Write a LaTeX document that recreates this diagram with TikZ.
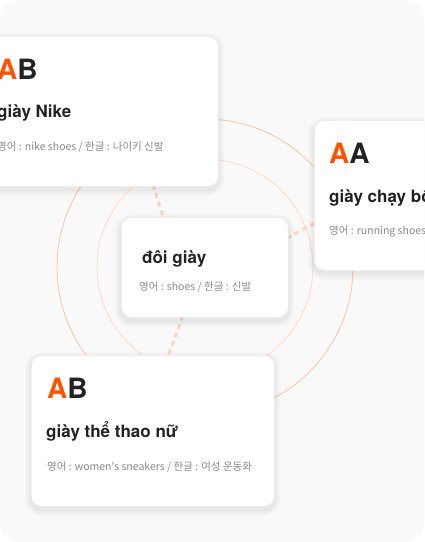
\documentclass[tikz,border=0pt]{standalone}
\usepackage{fontspec}
\setmainfont{texgyreheros}[Extension=.otf, UprightFont=*-regular, BoldFont=*-bold]
\newfontfamily\krfont{Noto Sans CJK KR}
\usetikzlibrary{calc,positioning}
\definecolor{PageGray}{RGB}{249, 249, 249}
\definecolor{CardLine}{RGB}{234, 234, 234}
\definecolor{MarkOrange}{RGB}{255, 82, 0}
\definecolor{InkDark}{RGB}{34, 34, 34}
\definecolor{NoteGray}{RGB}{138, 138, 138}
\definecolor{RingOuter}{RGB}{250, 200, 172}
\definecolor{RingInner}{RGB}{252, 222, 206}
\definecolor{LinkPeach}{RGB}{253, 212, 190}
\pgfdeclarelayer{ground}
\pgfdeclarelayer{links}
\pgfsetlayers{ground,links,main}
\tikzset{
    softshade/.style={draw=black, draw opacity=0.022, line width=#1, transform canvas={yshift=-3pt}},
    card/.style={draw=CardLine, line width=0.7pt, fill=white, rounded corners=10pt,
        anchor=north west, inner sep=0pt,
        preaction={softshade=12pt}, preaction={softshade=8pt}, preaction={softshade=4pt}},
    letterpair/.style={font=\fontsize{28}{30}\selectfont\bfseries, text=InkDark, anchor=base west, inner sep=0pt},
    headword/.style={font=\fontsize{17}{20}\selectfont\bfseries, text=InkDark, anchor=base west, inner sep=0pt},
    gloss/.style={font=\krfont\fontsize{10.5}{12}\selectfont, text=NoteGray, anchor=base west, inner sep=0pt},
    link/.style={LinkPeach, line width=3pt, dash pattern=on 5pt off 4pt},
}

\begin{document}
\begin{tikzpicture}[x=1pt, y=-1pt]
    \useasboundingbox (0,0) rectangle (424,542);
    \clip (0,0) rectangle (424,542);
    \begin{pgfonlayer}{ground}
        % page
        \fill[white] (0,0) rectangle (424,542);
        \fill[PageGray, rounded corners=20pt] (0,0) rectangle (424,542);
        % rings
        \draw[RingOuter, line width=0.9pt] (205,267) circle (148);
        \draw[RingInner, line width=0.9pt] (205,267) circle (108);
    \end{pgfonlayer}
    % cards
    \node[card, minimum width=237pt, minimum height=150pt] (nike) at (-19,36) {};
    \node[card, minimum width=130pt, minimum height=150pt] (chay) at (314,120) {};
    \node[card, minimum width=167pt, minimum height=100pt] (doi)  at (121,217) {};
    \node[card, minimum width=243pt, minimum height=151pt] (thao) at (31,355) {};
    % links
    \begin{pgfonlayer}{links}
        \draw[link] ($(nike.south)+(53,-2)$) -- ($(doi.north)+(-41,2)$);
        \draw[link] ($(doi.east)+(-2,-29)$) -- ($(chay.west)+(2,27)$);
        \draw[link] ($(doi.south)+(-22,-2)$) -- ($(thao.north)+(15,2)$);
    \end{pgfonlayer}
    % texts
    \node[letterpair] (nikeAB) at ($(nike.north west)+(16,43)$) {\textcolor{MarkOrange}{A}B};
    \node[headword] (nikeWord) at ($(nike.north west)+(16,81)$) {giày Nike};
    \node[gloss] (nikeNote) at ($(nike.north west)+(16,114)$) {영어 : nike shoes / 한글 : 나이키 신발};

    \node[letterpair] (chayAA) at ($(chay.north west)+(15,43)$) {\textcolor{MarkOrange}{A}A};
    \node[headword] (chayWord) at ($(chay.north west)+(15,82)$) {giày chạy bộ};
    \node[gloss] (chayNote) at ($(chay.north west)+(15,114)$) {영어 : running shoes / 한글 : 러닝화};

    \node[headword] (doiWord) at ($(doi.north west)+(21,46)$) {đôi giày};
    \node[gloss] (doiNote) at ($(doi.north west)+(18,73)$) {영어 : shoes / 한글 : 신발};

    \node[letterpair] (thaoAB) at ($(thao.north west)+(16,43)$) {\textcolor{MarkOrange}{A}B};
    \node[headword] (thaoWord) at ($(thao.north west)+(15,82)$) {giày thể thao nữ};
    \node[gloss] (thaoNote) at ($(thao.north west)+(16,115)$) {영어 : women's sneakers / 한글 : 여성 운동화};
\end{tikzpicture}
\end{document}
